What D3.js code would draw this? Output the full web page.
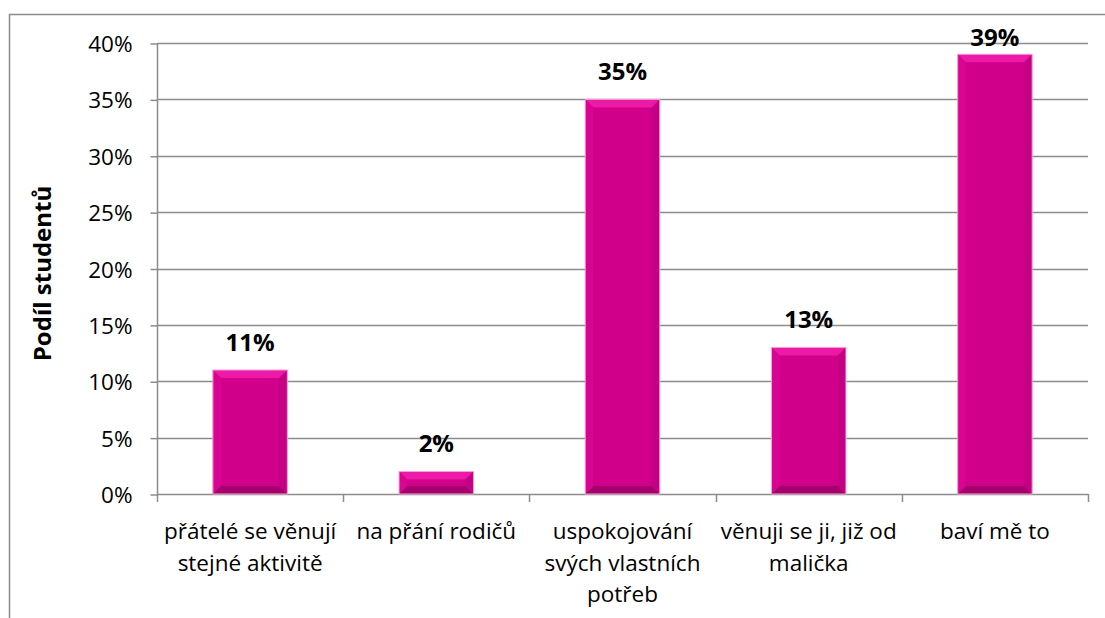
<!DOCTYPE html>
<html>
<head>
<meta charset="utf-8">
<script src="https://cdn.jsdelivr.net/npm/d3@7"></script>
<style>
  html, body { margin: 0; padding: 0; background: #fff; }
  svg { display: block; }
  text { font-family: "Open Sans", Lato, sans-serif; fill: #000; }
</style>
</head>
<body>
<svg id="chart" width="1105" height="618"></svg>
<script>
// ---- data ----
const categories = [
  "přátelé se věnují\nstejné aktivitě",
  "na přání rodičů",
  "uspokojování\nsvých vlastních\npotřeb",
  "věnuji se ji, již od\nmalička",
  "baví mě to"
];
const values = [0.11, 0.02, 0.35, 0.13, 0.39];
const yTicks = [0, 0.05, 0.10, 0.15, 0.20, 0.25, 0.30, 0.35, 0.40];
const yTitle = "Podíl studentů";

// ---- layout ----
const svg = d3.select("#chart");
const plot = { left: 157, right: 1088, top: 43, bottom: 494 };
const FS = 22.5;

// chart border
svg.append("path")
  .attr("d", `M9.5,${618} L9.5,14.5 L1105,14.5`)
  .attr("fill", "none").attr("stroke", "#8c8c8c").attr("stroke-width", 1.5);

const x = d3.scaleBand().domain(categories)
  .range([plot.left, plot.right]).paddingInner(0.6).paddingOuter(0.3);
const y = d3.scaleLinear().domain([0, 0.40]).range([plot.bottom, plot.top]);

// gridlines
svg.append("g").selectAll("line").data(yTicks.filter(d => d > 0)).join("line")
  .attr("x1", plot.left).attr("x2", plot.right)
  .attr("y1", d => Math.round(y(d)) + 0.5).attr("y2", d => Math.round(y(d)) + 0.5)
  .attr("stroke", "#8c8c8c").attr("stroke-width", 1.5);

// y axis
const yAxis = d3.axisLeft(y).tickValues(yTicks).tickFormat(d3.format(".0%"))
  .tickSize(7).tickPadding(18);
const gy = svg.append("g").attr("transform", `translate(${plot.left + 0.5},0.5)`).call(yAxis);
gy.select(".domain").attr("stroke", "#8c8c8c").attr("stroke-width", 1.5).attr("d", `M0,${plot.top} V${plot.bottom}`);
gy.selectAll(".tick line").attr("stroke", "#8c8c8c").attr("stroke-width", 1.5);
gy.selectAll(".tick text").attr("font-size", FS).attr("font-family", "'Open Sans', sans-serif").attr("fill", "#000")
  .attr("dy", "0.36em");

// x axis line + ticks at category boundaries
const bounds = d3.range(categories.length + 1).map(i => plot.left + i * (plot.right - plot.left) / categories.length);
svg.append("line").attr("x1", plot.left).attr("x2", plot.right)
  .attr("y1", plot.bottom + 0.5).attr("y2", plot.bottom + 0.5)
  .attr("stroke", "#8c8c8c").attr("stroke-width", 1.5);
svg.append("g").selectAll("line").data(bounds).join("line")
  .attr("x1", d => Math.round(d) + 0.5).attr("x2", d => Math.round(d) + 0.5)
  .attr("y1", plot.bottom).attr("y2", plot.bottom + 8)
  .attr("stroke", "#8c8c8c").attr("stroke-width", 1.5);

// x labels
const xl = svg.append("g").selectAll("text").data(categories).join("text")
  .attr("text-anchor", "middle").attr("font-size", FS)
  .attr("transform", d => `translate(${x(d) + x.bandwidth() / 2},539)`);
xl.each(function(d) {
  const t = d3.select(this);
  d.split("\n").forEach((line, i) => {
    t.append("tspan").attr("x", 0).attr("y", i * 31.5).text(line);
  });
});

// bars with bevel
const bars = svg.append("g").selectAll("g").data(values).join("g");
bars.each(function(v, i) {
  const g = d3.select(this);
  const x0 = x(categories[i]), w = x.bandwidth();
  const y0 = y(v), y1 = y(0), h = y1 - y0;
  const b = Math.min(8, h / 2.2);
  g.append("rect").attr("x", x0).attr("y", y0).attr("width", w).attr("height", h)
    .attr("fill", "#d0008b");
  g.append("path").attr("d", `M${x0},${y0} L${x0 + w},${y0} L${x0 + w - b},${y0 + b} L${x0 + b},${y0 + b} Z`)
    .attr("fill", "#ec1aa7");
  g.append("path").attr("d", `M${x0},${y1} L${x0 + w},${y1} L${x0 + w - b},${y1 - b} L${x0 + b},${y1 - b} Z`)
    .attr("fill", "#a3006c");
  g.append("path").attr("d", `M${x0},${y0} L${x0 + b},${y0 + b} L${x0 + b},${y1 - b} L${x0},${y1} Z`)
    .attr("fill", "#d80593");
  g.append("path").attr("d", `M${x0 + w},${y0} L${x0 + w - b},${y0 + b} L${x0 + w - b},${y1 - b} L${x0 + w},${y1} Z`)
    .attr("fill", "#c40084");
  g.append("rect").attr("x", x0).attr("y", y0).attr("width", w).attr("height", h)
    .attr("fill", "none").attr("stroke", "#f4a6d6").attr("stroke-width", 1);
});

// data labels
svg.append("g").selectAll("text").data(values).join("text")
  .attr("text-anchor", "middle").attr("font-size", 24).attr("font-weight", "bold")
  .attr("x", (v, i) => x(categories[i]) + x.bandwidth() / 2)
  .attr("y", v => Math.max(y(v) - 19, plot.top + 3))
  .text(d3.format(".0%"));

// y title
svg.append("text").attr("font-size", 24).attr("font-weight", "bold").attr("text-anchor", "middle")
  .attr("transform", `translate(51,${(plot.top + plot.bottom) / 2 + 5}) rotate(-90)`)
  .text(yTitle);
</script>
</body>
</html>
